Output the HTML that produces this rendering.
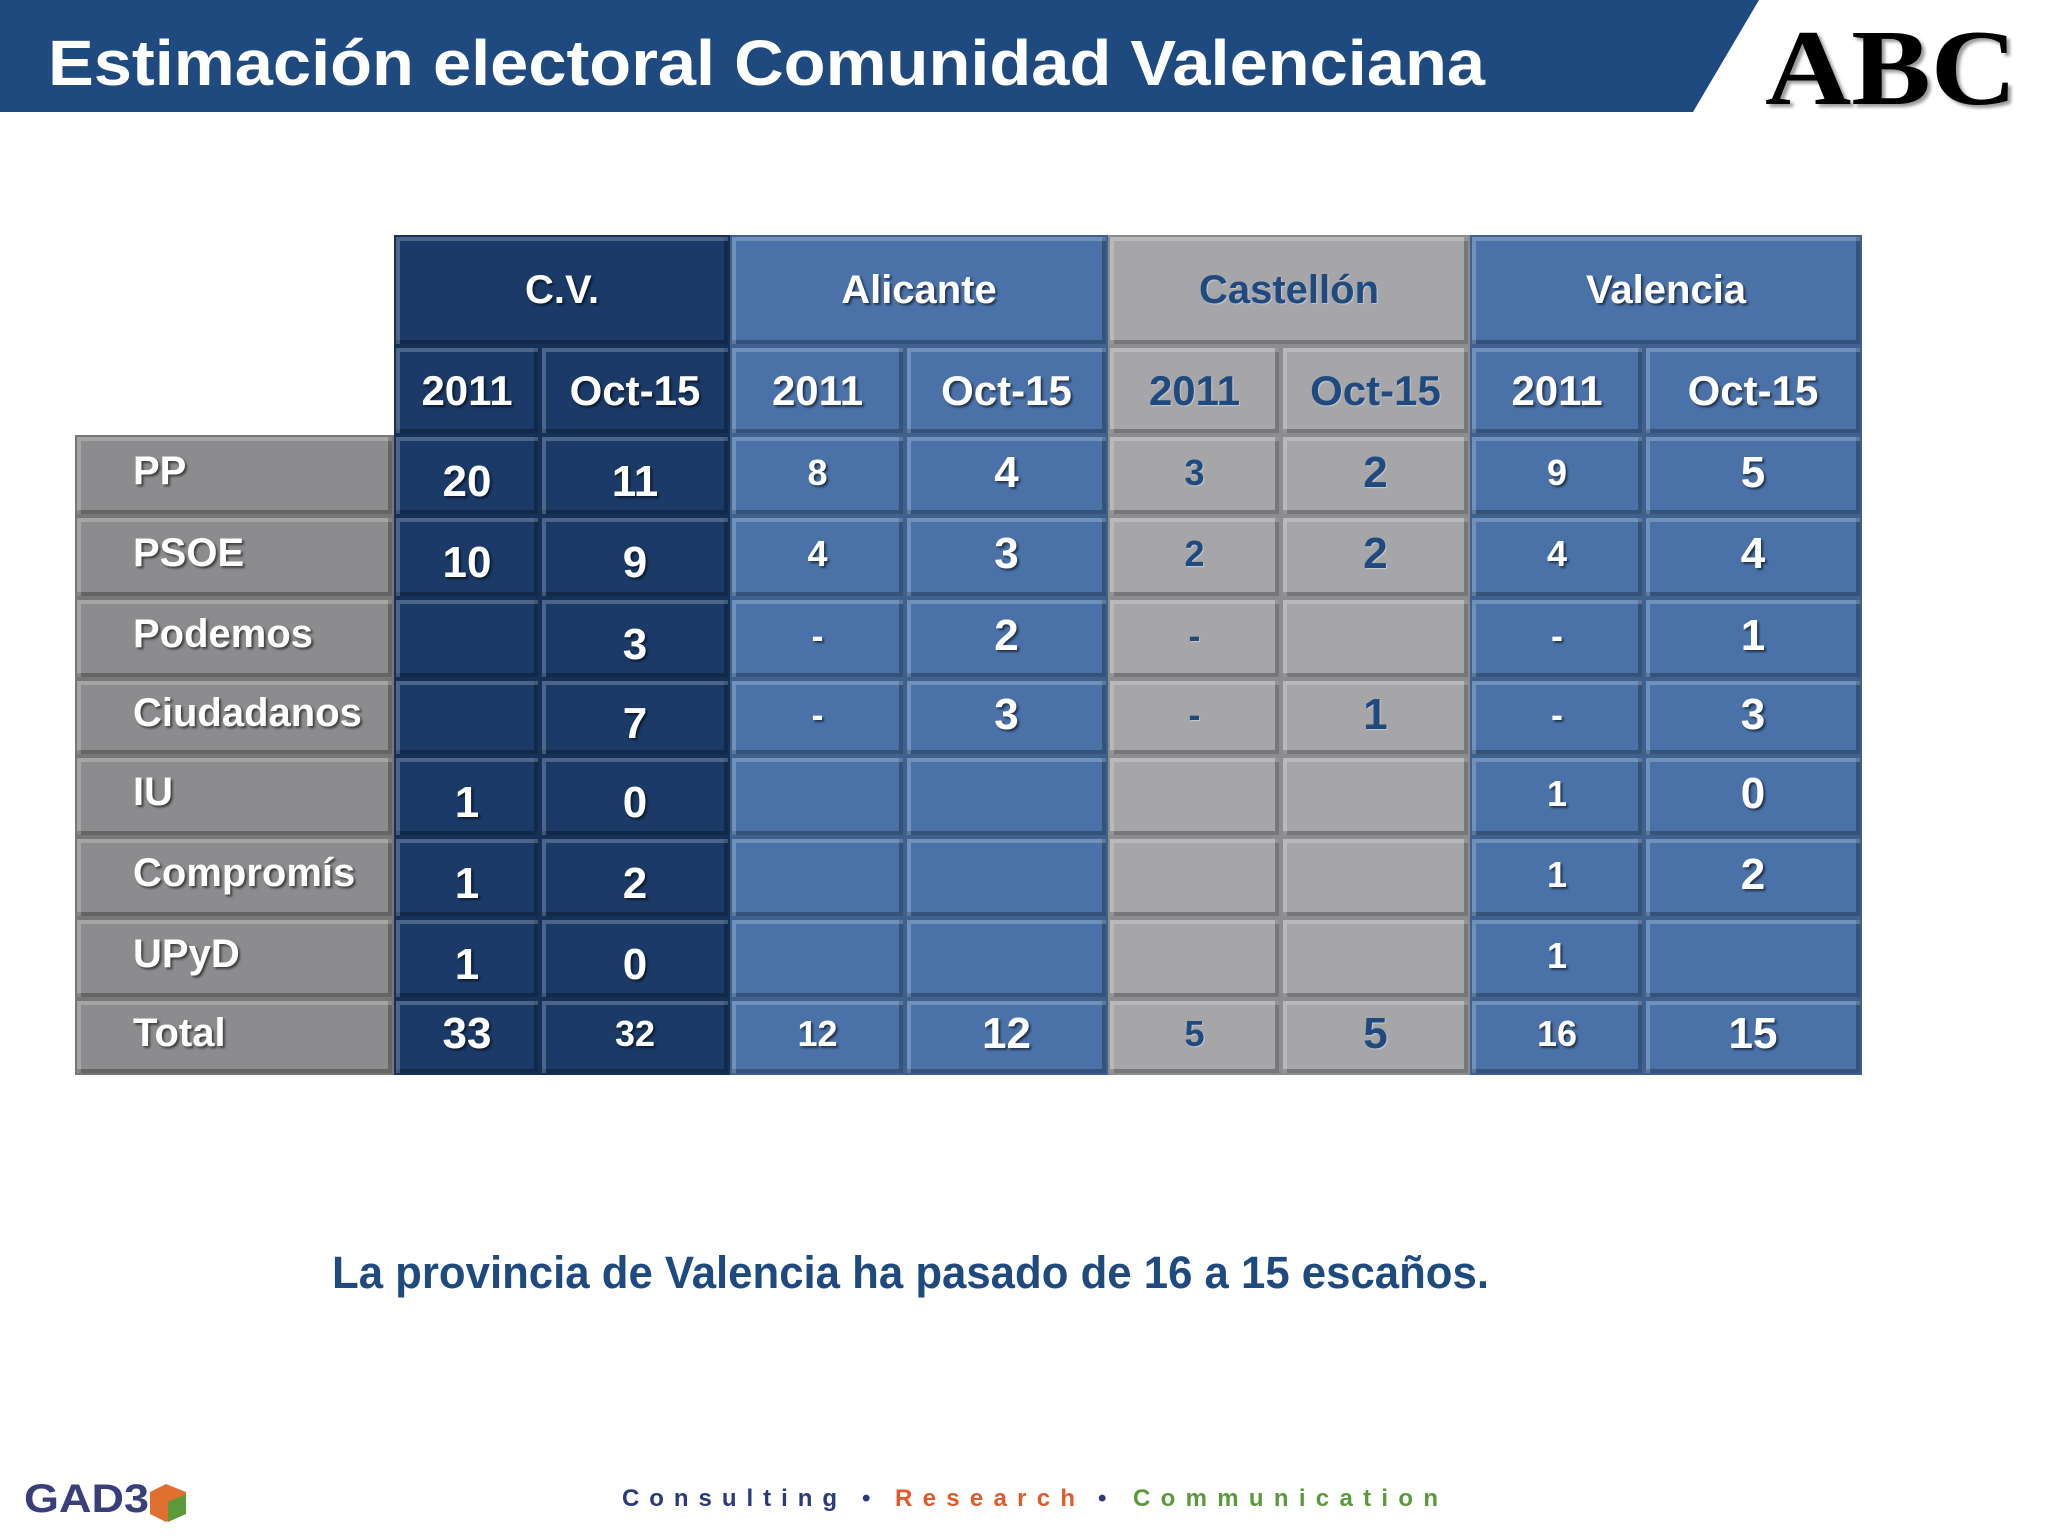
<!DOCTYPE html>
<html><head><meta charset="utf-8">
<style>
body{margin:0;width:2048px;height:1536px;background:#fff;overflow:hidden;position:relative;font-family:"Liberation Sans Narrow","Liberation Sans",sans-serif;}
.cell{position:absolute;box-sizing:border-box;display:flex;align-items:center;justify-content:center;font-weight:bold;color:#fff;text-shadow:2px 2px 2px rgba(0,0,0,.55);}
</style></head><body>
<svg style="position:absolute;left:0;top:0" width="2048" height="160">
<polygon points="0,0 1759,0 1693,112 0,112" fill="#1f4a80"/>
<text x="48" y="85" font-family="Liberation Sans Narrow, Liberation Sans, sans-serif" font-weight="bold" font-size="64" fill="#fff" textLength="1437" lengthAdjust="spacingAndGlyphs">Estimación electoral Comunidad Valenciana</text>
<text x="1765" y="104" font-family="Liberation Serif, serif" font-weight="bold" font-size="108" fill="#000" textLength="252" lengthAdjust="spacingAndGlyphs" style="text-shadow:3px 3px 3px rgba(0,0,0,.4)">ABC</text>
</svg>
<div id="table"></div>
<svg style="position:absolute;left:0;top:1200px" width="2048" height="336">
<text x="332" y="88" font-family="Liberation Sans Narrow, Liberation Sans, sans-serif" font-weight="bold" font-size="45" fill="#1f4a80" textLength="1157" lengthAdjust="spacingAndGlyphs">La provincia de Valencia ha pasado de 16 a 15 escaños.</text>
<text x="24" y="312" font-family="Liberation Sans, sans-serif" font-weight="bold" font-size="40" fill="#3a3f7a" textLength="125" lengthAdjust="spacingAndGlyphs">GAD3</text>
<polygon points="166,284 186,292 186,314 166,322 150,314 150,292" fill="#e07030"/>
<polygon points="168,302 186,294 186,314 168,322" fill="#5a9a3a"/>
<text y="306" font-family="Liberation Sans, sans-serif" font-weight="bold" font-size="24">
<tspan x="622" fill="#2a3a7a" textLength="215" lengthAdjust="spacing">Consulting</tspan><tspan x="862" fill="#2a3a7a">•</tspan><tspan x="895" fill="#e05a2a" textLength="180" lengthAdjust="spacing">Research</tspan><tspan x="1098" fill="#2a3a7a">•</tspan><tspan x="1133" fill="#5a9a3a" textLength="305" lengthAdjust="spacing">Communication</tspan></text>
</svg>
<script>
const parties=["PP","PSOE","Podemos","Ciudadanos","IU","Compromís","UPyD","Total"];
const regions=["C.V.","Alicante","Castellón","Valencia"];
const periods=["2011","Oct-15"];
const cv2011=["20","10","","","1","1","1","33"];
const cvOct15=["11","9","3","7","0","2","0","32"];
const ali2011=["8","4","-","-","","","","12"];
const aliOct15=["4","3","2","3","","","","12"];
const cas2011=["3","2","-","-","","","","5"];
const casOct15=["2","2","","1","","","","5"];
const val2011=["9","4","-","-","1","1","1","16"];
const valOct15=["5","4","1","3","0","2","","15"];
const cols=[cv2011,cvOct15,ali2011,aliOct15,cas2011,casOct15,val2011,valOct15];
const xs=[75,394,540,730,905,1108,1281,1470,1644,1862];
const ys=[235,346,435,516,598,679,756,837,918,999,1075];
const regColors=["#1b3a67","#4a72a8","#a6a6a9","#4a72a8"];
const tbl=document.getElementById('table');
function cell(x,y,w,h,bg,txt,size,color,name){
  const d=document.createElement('div');d.className='cell';
  
  
  d.style.left=x+'px';d.style.top=y+'px';d.style.width=w+'px';d.style.height=h+'px';
  d.style.background=bg;d.style.fontSize=size+'px';
  d.style.boxShadow='inset 4px 4px 0 rgba(255,255,255,.22), inset -4px -4px 0 rgba(0,0,0,.28)';
  d.style.border='2px solid rgba(0,0,0,.15)';
  if(color!=='#fff'){d.style.color=color;d.style.textShadow='1px 1px 1px rgba(255,255,255,.4)';}
  d.textContent=txt;tbl.appendChild(d);return d;
}
regions.forEach((r,i)=>{
  const x0=xs[1+2*i],x1=xs[3+2*i];
  const col=i===2?'#1f4a80':'#fff';
  cell(x0,ys[0],x1-x0,ys[1]-ys[0],regColors[i],r,40,col,'region-header');
  periods.forEach((p,j)=>{
    const a=xs[1+2*i+j],b=xs[2+2*i+j];
    cell(a,ys[1],b-a,ys[2]-ys[1],regColors[i],p,42,col,'period-header');
  });
});
parties.forEach((p,r)=>{
  const c=cell(xs[0],ys[2+r],xs[1]-xs[0],ys[3+r]-ys[2+r],'#8c8c8e',p,40,'#fff','party-label');
  c.style.justifyContent='flex-start';c.style.paddingLeft='56px';c.style.paddingBottom='8px';
  cols.forEach((arr,k)=>{
    const reg=Math.floor(k/2);
    let big=reg===0||k%2===1;
    if(reg===0&&k===1&&r===7) big=false;
    const d=cell(xs[1+k],ys[2+r],xs[2+k]-xs[1+k],ys[3+r]-ys[2+r],regColors[reg],arr[r],big?44:36,reg===2?'#1f4a80':'#fff','seat-value');
    if(reg===0&&r<7) d.style.paddingTop='12px'; else d.style.paddingBottom='6px';
  });
});
</script>
</body></html>
